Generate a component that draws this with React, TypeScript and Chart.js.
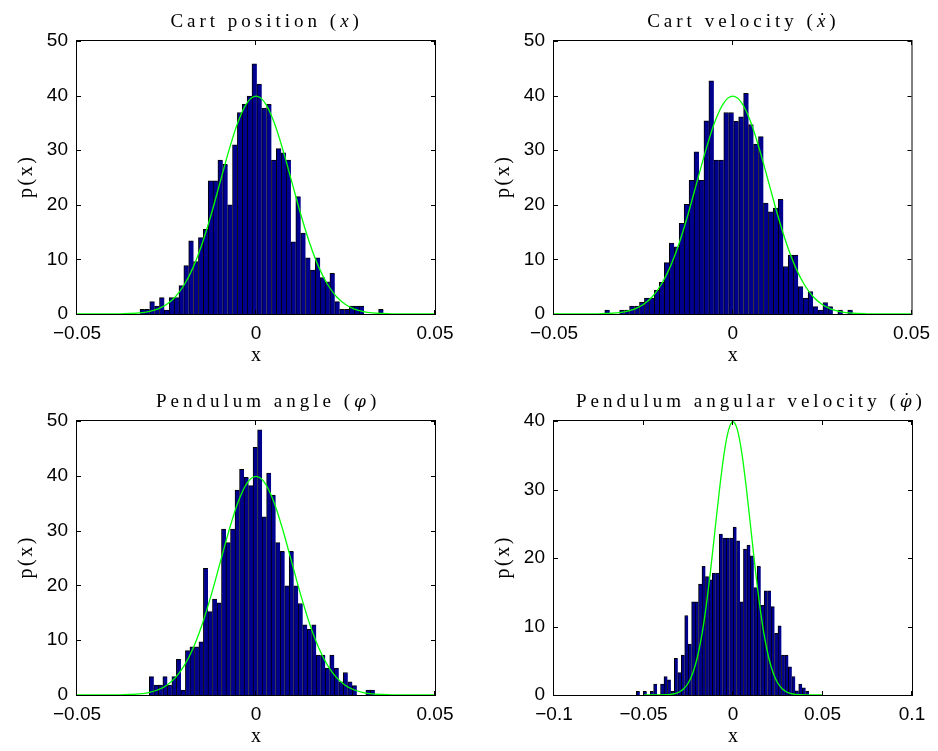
import React, { useEffect, useRef } from 'react';
import { Chart, registerables } from 'chart.js';

Chart.register(...registerables);

// ---------------- data ----------------
// Histogram bins: first bin left edge, bin width, and density per bin
const cartPositionBinStart = -0.0324;
const cartPositionBinWidth = 0.00136;
const cartPositionDensity = [
  0.86, 0.86, 2.26, 1.47, 3.0, 0.73, 3.0, 3.0, 5.2, 8.85,
  13.4, 9.6, 14.0, 15.5, 24.4, 24.4, 28.2, 27.4, 20.0, 31.0,
  36.9, 38.4, 39.9, 45.8, 42.1, 37.7, 38.4, 28.2, 30.3, 29.5,
  28.2, 13.2, 21.5, 14.8, 10.3, 8.06, 10.3, 6.65, 5.9, 7.45,
  2.26, 0.86, 0.86, 1.47, 1.47, 1.47, 0, 0, 0, 0.86,
];

const cartVelocityBinStart = -0.0358;
const cartVelocityBinWidth = 0.001387;
const cartVelocityDensity = [
  0.73, 0, 0, 0.73, 0.73, 1.47, 1.47, 2.15, 2.9, 2.9,
  4.4, 5.8, 9.4, 13.0, 12.3, 16.6, 20.1, 24.5, 29.7, 24.5,
  35.4, 42.7, 28.2, 28.2, 36.9, 36.9, 35.3, 36.1, 40.4, 34.7,
  31.1, 32.5, 20.3, 18.7, 19.4, 21.0, 8.7, 10.8, 10.8, 5.0,
  2.9, 4.1, 1.35, 0.73, 2.1, 1.35, 0, 0.73, 0, 0.73,
];

const pendulumAngleBinStart = -0.0298;
const pendulumAngleBinWidth = 0.00126;
const pendulumAngleDensity = [
  3.35, 1.8, 1.8, 3.35, 1.8, 3.35, 6.5, 0.9, 8.1, 8.8,
  8.8, 9.7, 23.1, 15.2, 17.5, 16.8, 30.3, 27.8, 30.3, 37.4,
  41.2, 39.7, 38.2, 45.2, 48.4, 32.5, 40.5, 36.5, 27.8, 26.2,
  19.9, 26.2, 19.9, 16.7, 12.8, 12.0, 12.8, 7.3, 7.3, 4.9,
  7.3, 4.9, 2.4, 4.1, 2.4, 1.7, 0, 0, 0.9, 0.9,
];

const pendulumRateBinStart = -0.054;
const pendulumRateBinWidth = 0.00193;
const pendulumRateDensity = [
  0.52, 0, 0.52, 0, 0.52, 1.6, 0, 1.6, 2.7, 2.2,
  0.52, 5.35, 3.26, 5.84, 11.6, 7.45, 13.6, 13.6, 16.2, 18.8,
  17.3, 16.8, 17.8, 17.8, 23.5, 22.9, 22.9, 22.9, 24.5, 22.5,
  13.6, 21.3, 21.9, 20.3, 15.7, 18.8, 13.1, 15.2, 15.2, 12.9,
  9.0, 10.1, 5.84, 5.84, 4.1, 2.7, 0.6, 1.6, 1.04, 0.52,
];

// Reference density curve (green), sampled from x = -0.05 in steps of 0.0025
const curveStart = -0.05;
const curveStep = 0.0025;
const curveDensity = [
  0, 0, 0, 0, 0.01, 0.04, 0.09, 0.2, 0.44, 0.91,
  1.75, 3.17, 5.4, 8.63, 12.95, 18.26, 24.2, 30.11, 35.21, 38.67,
  39.89,
  38.67, 35.21, 30.11, 24.2, 18.26, 12.95, 8.63, 5.4, 3.17, 1.75,
  0.91, 0.44, 0.2, 0.09, 0.04, 0.01, 0, 0, 0, 0,
];

const xTicksNarrow = [-0.05, 0, 0.05];
const xTickLabelsNarrow = ['\u22120.05', '0', '0.05'];
const xTicksWide = [-0.1, -0.05, 0, 0.05, 0.1];
const xTickLabelsWide = ['\u22120.1', '\u22120.05', '0', '0.05', '0.1'];
const yTicks50 = [0, 10, 20, 30, 40, 50];
const yTicks40 = [0, 10, 20, 30, 40];

const yAxisTitle = 'p(x)';
const xAxisTitle = 'x';

// ---------------- styles ----------------
const BAR_FILL = '#00008f';
const BAR_EDGE = '#000000';
const CURVE_COLOR = '#00ff00';
const SERIF = '"Liberation Serif", "Times New Roman", serif';
const SANS = '"Liberation Sans", Arial, Helvetica, sans-serif';
const TITLE_SIZE = 19;
const LABEL_SIZE = 20;
const TICK_SIZE = 19;
const SPACING = 4.0;

type Seg = { text: string; font: string; dot?: boolean };

const romanTitle = `${TITLE_SIZE}px ${SERIF}`;
const italicTitle = `italic ${TITLE_SIZE}px ${SERIF}`;
const greekTitle = `italic ${TITLE_SIZE - 2}px "DejaVu Serif", ${SERIF}`;

const titleCartPosition: Seg[] = [
  { text: 'Cart position (', font: romanTitle },
  { text: 'x', font: italicTitle },
  { text: ')', font: romanTitle },
];
const titleCartVelocity: Seg[] = [
  { text: 'Cart velocity (', font: romanTitle },
  { text: 'x', font: italicTitle, dot: true },
  { text: ')', font: romanTitle },
];
const titlePendulumAngle: Seg[] = [
  { text: 'Pendulum angle (', font: romanTitle },
  { text: '\u03C6', font: greekTitle },
  { text: ')', font: romanTitle },
];
const titlePendulumRate: Seg[] = [
  { text: 'Pendulum angular velocity (', font: romanTitle },
  { text: '\u03C6', font: greekTitle, dot: true },
  { text: ')', font: romanTitle },
];

function segsWidth(ctx: CanvasRenderingContext2D, segs: Seg[], sp: number) {
  let w = 0;
  let n = 0;
  for (const s of segs) {
    ctx.font = s.font;
    for (const ch of Array.from(s.text)) {
      w += ctx.measureText(ch).width;
      n++;
    }
  }
  return w + sp * Math.max(n - 1, 0);
}

function drawSegs(ctx: CanvasRenderingContext2D, segs: Seg[], x0: number, y: number, sp: number) {
  let x = x0;
  ctx.textAlign = 'left';
  for (const s of segs) {
    ctx.font = s.font;
    for (const ch of Array.from(s.text)) {
      const cw = ctx.measureText(ch).width;
      ctx.fillText(ch, x, y);
      if (s.dot) {
        ctx.save();
        ctx.font = `${TITLE_SIZE}px ${SERIF}`;
        ctx.textAlign = 'center';
        ctx.fillText('\u02D9', x + cw / 2 + 1, y - 1);
        ctx.restore();
      }
      x += cw + sp;
    }
  }
}

const decorPlugin = {
  id: 'decor',
  afterDatasetsDraw(chart: any, _args: any, opts: any) {
    const { ctx, chartArea: a, scales } = chart;
    ctx.save();
    // box
    ctx.strokeStyle = '#000';
    ctx.lineWidth = 1;
    ctx.strokeRect(a.left - 0.5, a.top - 0.5, a.right - a.left + 1, a.bottom - a.top + 1);
    // inward ticks on all sides
    const L = 4;
    ctx.beginPath();
    for (const t of scales.x.ticks) {
      const px = Math.round(scales.x.getPixelForValue(t.value)) - 0.5;
      ctx.moveTo(px, a.bottom);
      ctx.lineTo(px, a.bottom - L);
      ctx.moveTo(px, a.top);
      ctx.lineTo(px, a.top + L);
    }
    for (const t of scales.y.ticks) {
      const py = Math.round(scales.y.getPixelForValue(t.value)) + 0.5;
      ctx.moveTo(a.left, py);
      ctx.lineTo(a.left + L, py);
      ctx.moveTo(a.right, py);
      ctx.lineTo(a.right - L, py);
    }
    ctx.stroke();

    ctx.fillStyle = '#000';
    ctx.textBaseline = 'alphabetic';
    // title
    const segs: Seg[] = opts.title;
    const tw = segsWidth(ctx, segs, SPACING);
    const cx = (a.left + a.right) / 2 + tw * 0.046;
    drawSegs(ctx, segs, cx - tw / 2, a.top - 14, SPACING);

    // axis titles
    const lab = `${LABEL_SIZE}px ${SERIF}`;
    ctx.textBaseline = 'middle';
    const yl: Seg[] = [{ text: yAxisTitle, font: lab }];
    const yw = segsWidth(ctx, yl, 2.5);
    ctx.save();
    ctx.translate(a.left - 50, (a.top + a.bottom) / 2);
    ctx.rotate(-Math.PI / 2);
    drawSegs(ctx, yl, -yw / 2, 0, 2.5);
    ctx.restore();

    const xl: Seg[] = [{ text: xAxisTitle, font: lab }];
    const xw = segsWidth(ctx, xl, 0);
    drawSegs(ctx, xl, (a.left + a.right) / 2 - xw / 2, a.bottom + 42, 0);
    ctx.restore();
  },
};

type PanelCfg = {
  left: number;
  top: number;
  width: number;
  height: number;
  area: { left: number; right: number; top: number; bottom: number };
  title: Seg[];
  binStart: number;
  binWidth: number;
  density: number[];
  xMin: number;
  xMax: number;
  xTicks: number[];
  xLabels: string[];
  yMax: number;
  yTicks: number[];
};

const panels: PanelCfg[] = [
  {
    left: 0, top: 0, width: 469, height: 376,
    area: { left: 77, right: 435, top: 41, bottom: 314 },
    title: titleCartPosition,
    binStart: cartPositionBinStart, binWidth: cartPositionBinWidth, density: cartPositionDensity,
    xMin: -0.05, xMax: 0.05, xTicks: xTicksNarrow, xLabels: xTickLabelsNarrow,
    yMax: 50, yTicks: yTicks50,
  },
  {
    left: 469, top: 0, width: 469, height: 376,
    area: { left: 85, right: 443, top: 41, bottom: 314 },
    title: titleCartVelocity,
    binStart: cartVelocityBinStart, binWidth: cartVelocityBinWidth, density: cartVelocityDensity,
    xMin: -0.05, xMax: 0.05, xTicks: xTicksNarrow, xLabels: xTickLabelsNarrow,
    yMax: 50, yTicks: yTicks50,
  },
  {
    left: 0, top: 376, width: 469, height: 375,
    area: { left: 77, right: 435, top: 45, bottom: 319 },
    title: titlePendulumAngle,
    binStart: pendulumAngleBinStart, binWidth: pendulumAngleBinWidth, density: pendulumAngleDensity,
    xMin: -0.05, xMax: 0.05, xTicks: xTicksNarrow, xLabels: xTickLabelsNarrow,
    yMax: 50, yTicks: yTicks50,
  },
  {
    left: 469, top: 376, width: 469, height: 375,
    area: { left: 85, right: 443, top: 45, bottom: 319 },
    title: titlePendulumRate,
    binStart: pendulumRateBinStart, binWidth: pendulumRateBinWidth, density: pendulumRateDensity,
    xMin: -0.1, xMax: 0.1, xTicks: xTicksWide, xLabels: xTickLabelsWide,
    yMax: 40, yTicks: yTicks40,
  },
];

function Panel({ cfg }: { cfg: PanelCfg }) {
  const ref = useRef<HTMLCanvasElement>(null);
  useEffect(() => {
    const canvas = ref.current;
    if (!canvas) return;
    const { area, width: W, height: H } = cfg;
    const bars = cfg.density.map((d, i) => ({ x: cfg.binStart + (i + 0.5) * cfg.binWidth, y: d }));
    const curve = curveDensity.map((d, i) => ({ x: curveStart + i * curveStep, y: d }));
    const chart = new Chart(canvas, {
      type: 'bar',
      data: {
        datasets: [
          {
            type: 'bar',
            data: bars as any,
            backgroundColor: BAR_FILL,
            borderColor: BAR_EDGE,
            borderWidth: { top: 1, left: 1, right: 0, bottom: 0 } as any,
            borderSkipped: false,
            barPercentage: 1,
            categoryPercentage: 1,
            order: 2,
          } as any,
          {
            type: 'line',
            data: curve as any,
            borderColor: CURVE_COLOR,
            borderWidth: 1.3,
            pointRadius: 0,
            fill: false,
            cubicInterpolationMode: 'monotone',
            order: 1,
          } as any,
        ],
      },
      options: {
        responsive: false,
        animation: false,
        events: [],
        layout: { padding: { left: 0, top: area.top, right: W - area.right, bottom: 0 } },
        plugins: {
          legend: { display: false },
          tooltip: { enabled: false },
          title: { display: false },
          decor: { title: cfg.title },
        } as any,
        scales: {
          x: {
            type: 'linear',
            min: cfg.xMin,
            max: cfg.xMax,
            offset: false,
            grid: { display: false, drawTicks: false, tickLength: 0 },
            border: { display: false },
            afterBuildTicks: (s: any) => {
              s.ticks = cfg.xTicks.map((v) => ({ value: v }));
            },
            afterFit: (s: any) => {
              s.height = H - area.bottom;
            },
            ticks: {
              autoSkip: false,
              maxRotation: 0,
              color: '#000',
              padding: 8,
              font: { family: SANS, size: TICK_SIZE },
              callback: (_v: any, i: number) => cfg.xLabels[i],
            },
          },
          y: {
            type: 'linear',
            min: 0,
            max: cfg.yMax,
            grid: { display: false, drawTicks: false, tickLength: 0 },
            border: { display: false },
            afterBuildTicks: (s: any) => {
              s.ticks = cfg.yTicks.map((v) => ({ value: v }));
            },
            afterFit: (s: any) => {
              s.width = area.left;
            },
            ticks: {
              color: '#000',
              padding: 9,
              font: { family: SANS, size: TICK_SIZE },
              callback: (_v: any, i: number) => String(cfg.yTicks[i]),
            },
          },
        },
      } as any,
      plugins: [decorPlugin as any],
    });
    return () => chart.destroy();
  }, [cfg]);
  return (
    <canvas
      ref={ref}
      width={cfg.width}
      height={cfg.height}
      style={{ position: 'absolute', left: cfg.left, top: cfg.top, width: cfg.width, height: cfg.height }}
    />
  );
}

export default function App() {
  return (
    <div style={{ position: 'fixed', left: 0, top: 0, width: 938, height: 751, background: '#fff', overflow: 'hidden' }}>
      {panels.map((p, i) => (
        <Panel key={i} cfg={p} />
      ))}
    </div>
  );
}
